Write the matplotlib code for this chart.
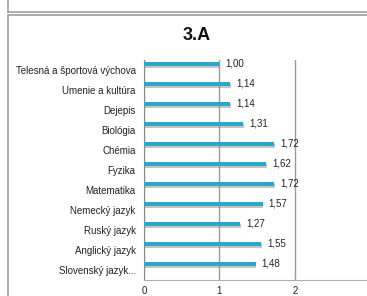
import matplotlib.pyplot as plt
from matplotlib.patches import Rectangle
from matplotlib.lines import Line2D

# predmety odspodu nahor (ako v grafe)
predmety = ["Slovenský jazyk...", "Anglický jazyk", "Ruský jazyk", "Nemecký jazyk",
            "Matematika", "Fyzika", "Chémia", "Biológia", "Dejepis",
            "Umenie a kultúra", "Telesná a športová výchova"]
priemery = [1.48, 1.55, 1.27, 1.57, 1.72, 1.62, 1.72, 1.31, 1.14, 1.14, 1.00]
x_ticks = [0, 1, 2]

plt.rcParams['font.family'] = ['Liberation Sans', 'DejaVu Sans']

fig = plt.figure(figsize=(3.67, 2.96), dpi=100)

# okraje ramcekov (predchadzajuci graf + tento)
fig.add_artist(Line2D([8 / 367, 1.0], [1 - 12 / 296, 1 - 12 / 296], color='#a0a0a0', lw=1.2))
fig.add_artist(Line2D([8 / 367, 8 / 367], [1 - 12 / 296, 1.0], color='#a0a0a0', lw=1.2))
fig.add_artist(Rectangle((8 / 367, -0.1), 1.2, 1 - 15 / 296 + 0.1, fill=False,
                         edgecolor='#a0a0a0', lw=1.2, transform=fig.transFigure))

ax = fig.add_axes([144 / 367, 16 / 296, 226.5 / 367, 220 / 296])
pos = list(range(len(predmety)))
bar_pos = [p + 0.3 for p in pos]

# tien pod stlpcami
ax.barh([b - 0.08 for b in bar_pos], [v + 0.01 for v in priemery], height=0.2,
        color='#8c8c8c', alpha=0.5, zorder=2)
ax.barh(bar_pos, priemery, height=0.2, color='#2ea6c9', zorder=3)

for b, v in zip(bar_pos, priemery):
    ax.text(v + 0.08, b, f"{v:.2f}".replace('.', ','), va='center', ha='left',
            fontsize=7, color='#222222', zorder=4)

ax.set_xlim(0, 3)
ax.set_ylim(-0.5, len(predmety) - 0.5)
ax.set_xticks(x_ticks)
ax.set_xticklabels([str(t) for t in x_ticks], fontsize=7, color='#222222')
ax.set_yticks(pos)
ax.set_yticklabels(predmety, fontsize=7, color='#222222')
ax.tick_params(axis='x', length=0, pad=4)
ax.tick_params(axis='y', length=0, pad=6)
ax.xaxis.grid(True, color='#9a9a9a', lw=1)
ax.set_axisbelow(True)
for s in ['top', 'right']:
    ax.spines[s].set_visible(False)
ax.spines['left'].set_color('#8a8a8a')
ax.spines['bottom'].set_color('#b0b0b0')

fig.text(197 / 367, 1 - 36 / 296, "3.A", ha='center', va='center',
         fontsize=13, fontweight='bold', color='#111111')

fig.savefig("out.png", dpi=100)
